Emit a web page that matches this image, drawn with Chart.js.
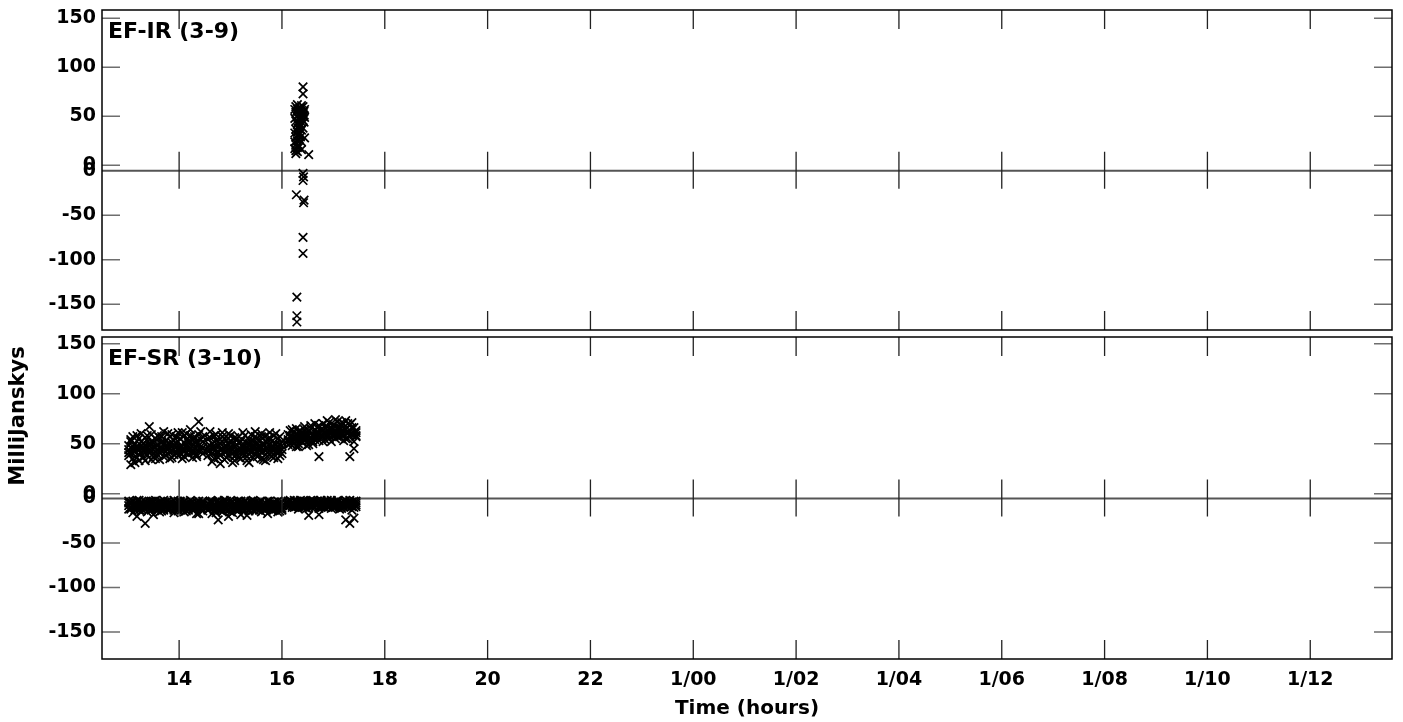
<!DOCTYPE html>
<html>
<head>
<meta charset="utf-8">
<title>EF baselines</title>
<script src="https://cdn.jsdelivr.net/npm/chart.js@4"></script>
<style>
  html, body { margin: 0; padding: 0; background: #fff; }
  #page { position: relative; width: 1403px; height: 722px; overflow: hidden; }
  .panel { position: absolute; left: 0; width: 1403px; }
</style>
</head>
<body>
<div id="page">
  <div class="panel" style="top:0;height:334px"><canvas id="irChart"></canvas></div>
  <div class="panel" style="top:333px;height:389px"><canvas id="srChart"></canvas></div>
</div>
<script>
// ---- tick labels ----
const timeTicks = [14, 16, 18, 20, 22, 24, 26, 28, 30, 32, 34, 36];
const upperTicks = [0, 50, 100, 150];
const lowerTicks = [0, -50, -100, -150];

// ---- EF-IR (3-9) ----
const irUpTimes = [16.41, 16.41, 16.27, 16.27, 16.27, 16.27, 16.27, 16.27, 16.27, 16.27,
                   16.30, 16.30, 16.30, 16.30, 16.30, 16.30, 16.30, 16.30,
                   16.34, 16.34, 16.34, 16.34, 16.34, 16.34, 16.34,
                   16.38, 16.38, 16.38, 16.38, 16.38, 16.38, 16.38,
                   16.41, 16.41, 16.41, 16.41, 16.44, 16.44, 16.44, 16.52,
                   16.25, 16.25, 16.25, 16.25, 16.25, 16.32, 16.32, 16.32, 16.32, 16.32,
                   16.36, 16.36, 16.36, 16.36, 16.43, 16.43, 16.43];
const irUpVals = [80, 73, 60, 54, 45, 37, 29, 21, 15, 12,
                  62, 57, 50, 42, 34, 25, 18, 14,
                  58, 52, 47, 40, 32, 26, 19,
                  61, 56, 50, 44, 36, 24, 16,
                  60, 53, 46, 38, 57, 49, 28, 11,
                  57, 48, 33, 24, 17, 55, 44, 38, 30, 21,
                  59, 49, 42, 29, 55, 51, 44];
const irLowTimes = [16.41, 16.42, 16.41, 16.28, 16.43, 16.42, 16.41, 16.41, 16.29, 16.29, 16.29];
const irLowVals = [-3, -7, -11, -27, -33, -36, -75, -93, -142, -163, -170];

// ---- EF-SR (3-10), three scans ----
const srTimes1 = [13.02, 13.06, 13.10, 13.14, 13.18, 13.22, 13.26, 13.30, 13.34, 13.38,
                  13.42, 13.46, 13.50, 13.54, 13.58, 13.62, 13.66, 13.70, 13.74, 13.78,
                  13.82, 13.86, 13.90, 13.94, 13.98, 14.02, 14.06, 14.10, 14.14, 14.18,
                  14.22, 14.26, 14.30, 14.34, 14.38, 14.42, 14.46];
const srTimes2 = [14.56, 14.60, 14.64, 14.68, 14.72, 14.76, 14.80, 14.84, 14.88, 14.92,
                  14.96, 15.00, 15.04, 15.08, 15.12, 15.16, 15.20, 15.24, 15.28, 15.32,
                  15.36, 15.40, 15.44, 15.48, 15.52, 15.56, 15.60, 15.64, 15.68, 15.72,
                  15.76, 15.80, 15.84, 15.88, 15.92, 15.96, 16.00];
const srTimes3 = [16.12, 16.16, 16.20, 16.24, 16.28, 16.32, 16.36, 16.40, 16.44, 16.48,
                  16.52, 16.56, 16.60, 16.64, 16.68, 16.72, 16.76, 16.80, 16.84, 16.88,
                  16.92, 16.96, 17.00, 17.04, 17.08, 17.12, 17.16, 17.20, 17.24, 17.28,
                  17.32, 17.36, 17.40, 17.44];

// amplitude-like values (upper half of each panel)
const srAmpA1 = [38, 52, 44, 31, 47, 55, 40, 36, 49, 58, 43, 34, 51, 46, 39, 56, 45, 37, 53, 48,
                 41, 59, 44, 50, 38, 55, 47, 42, 60, 51, 45, 36, 57, 49, 43, 62, 52];
const srAmpB1 = [48, 29, 57, 42, 36, 44, 60, 50, 33, 43, 67, 52, 40, 35, 58, 41, 52, 62, 38, 44,
                 57, 36, 53, 40, 61, 45, 35, 58, 46, 39, 64, 54, 41, 37, 72, 47, 40];
const srAmpC1 = [44, 40, 47, 42, 45, 39, 48, 44, 41, 46, 50, 43, 47, 42, 49, 45, 51, 44, 48, 46,
                 50, 43, 49, 46, 52, 47, 44, 51, 48, 53, 46, 50, 45, 52, 48, 54, 46];
const srAmpD1 = [41, 54, 35, 50, 58, 33, 52, 46, 56, 38, 48, 59, 37, 55, 44, 34, 57, 49, 42, 60,
                 35, 51, 39, 57, 45, 40, 61, 37, 54, 43, 58, 41, 55, 39, 59, 44, 57];
const srAmpA2 = [55, 48, 40, 58, 44, 36, 50, 61, 42, 47, 38, 53, 45, 33, 49, 57, 41, 46, 52, 37,
                 44, 59, 48, 40, 55, 43, 35, 50, 58, 45, 39, 52, 47, 60, 42, 49, 44];
const srAmpB2 = [43, 62, 32, 46, 53, 41, 30, 45, 55, 36, 60, 42, 31, 56, 40, 44, 35, 61, 39, 50,
                 31, 43, 53, 62, 37, 48, 57, 42, 33, 54, 61, 44, 36, 49, 55, 38, 52];
const srAmpC2 = [47, 43, 50, 45, 41, 48, 44, 52, 46, 42, 49, 45, 40, 47, 43, 51, 44, 48, 42, 46,
                 50, 41, 47, 44, 49, 45, 42, 48, 46, 51, 43, 47, 44, 50, 46, 42, 48];
const srAmpD2 = [38, 56, 46, 35, 59, 52, 39, 57, 34, 53, 44, 58, 49, 37, 55, 36, 52, 40, 58, 33,
                 54, 47, 36, 57, 51, 39, 60, 34, 52, 41, 56, 37, 58, 42, 35, 57, 40];
const srAmpA3 = [52, 58, 48, 61, 55, 50, 63, 57, 53, 60, 49, 65, 58, 54, 62, 68, 56, 60, 66, 59,
                 71, 63, 57, 67, 72, 61, 58, 70, 64, 55, 69, 60, 66, 58];
const srAmpB3 = [59, 50, 64, 54, 47, 62, 53, 58, 67, 48, 63, 56, 52, 70, 59, 37, 64, 52, 61, 73,
                 55, 66, 60, 74, 57, 64, 68, 53, 73, 62, 37, 71, 45, 63];
const srAmpC3 = [54, 57, 52, 56, 59, 53, 57, 60, 55, 58, 62, 56, 59, 63, 57, 60, 64, 58, 62, 57,
                 61, 65, 59, 63, 60, 66, 62, 58, 64, 60, 63, 59, 61, 57];
const srAmpD3 = [49, 63, 56, 51, 65, 47, 60, 51, 64, 56, 53, 68, 50, 58, 66, 53, 58, 70, 54, 67,
                 58, 52, 69, 55, 66, 57, 71, 63, 55, 70, 58, 66, 52, 61];

// lower half of each panel
const srNegA1 = [-5, -10, -3, -13, -7, -2, -11, -8, -4, -15, -6, -9, -3, -12, -7, -5, -14, -2, -9, -6,
                 -11, -4, -13, -8, -3, -10, -6, -15, -5, -9, -2, -12, -7, -4, -17, -8, -3];
const srNegB1 = [-12, -4, -16, -7, -20, -9, -14, -5, -28, -8, -12, -3, -18, -6, -10, -15, -4, -11, -8, -13,
                 -5, -9, -16, -6, -12, -3, -10, -7, -14, -11, -5, -13, -8, -17, -6, -10, -14];
const srNegC1 = [-8, -6, -9, -5, -11, -7, -6, -10, -8, -5, -9, -7, -11, -6, -8, -10, -7, -5, -9, -11,
                 -6, -8, -7, -10, -9, -6, -8, -11, -7, -6, -9, -8, -10, -7, -9, -6, -8];
const srNegD1 = [-3, -12, -7, -10, -2, -13, -4, -9, -12, -6, -3, -13, -8, -2, -12, -4, -10, -13, -5, -3,
                 -12, -7, -2, -11, -14, -4, -12, -3, -10, -13, -7, -4, -12, -10, -3, -12, -5];
const srNegA2 = [-6, -11, -3, -9, -14, -5, -8, -12, -2, -10, -7, -15, -4, -9, -13, -6, -3, -11, -8, -5,
                 -14, -10, -2, -7, -12, -4, -9, -6, -13, -3, -8, -11, -5, -10, -7, -14, -4];
const srNegB2 = [-13, -4, -17, -8, -16, -24, -6, -15, -9, -12, -20, -5, -16, -8, -11, -3, -18, -7, -13, -19,
                 -6, -11, -9, -14, -5, -10, -15, -7, -12, -17, -6, -10, -13, -8, -15, -5, -11];
const srNegC2 = [-9, -7, -5, -10, -8, -6, -11, -7, -9, -6, -8, -10, -7, -5, -9, -11, -8, -6, -10, -7,
                 -9, -5, -8, -11, -7, -6, -10, -8, -9, -7, -11, -6, -8, -9, -10, -7, -8];
const srNegD2 = [-12, -3, -10, -13, -4, -2, -13, -4, -12, -3, -13, -2, -11, -12, -4, -13, -5, -12, -3, -11,
                 -12, -3, -13, -4, -10, -13, -3, -12, -5, -11, -3, -13, -4, -12, -3, -11, -13];
const srNegA3 = [-3, -8, -5, -2, -9, -6, -4, -10, -3, -7, -5, -2, -8, -4, -6, -9, -3, -7, -5, -2,
                 -8, -4, -10, -6, -3, -7, -5, -9, -2, -6, -4, -8, -3, -7];
const srNegB3 = [-7, -3, -10, -6, -4, -12, -8, -3, -6, -11, -19, -5, -9, -4, -7, -18, -10, -6, -3, -9,
                 -5, -11, -7, -4, -8, -12, -6, -10, -24, -7, -28, -13, -22, -9];
const srNegC3 = [-5, -7, -4, -6, -8, -5, -6, -4, -7, -5, -8, -6, -4, -7, -5, -6, -8, -4, -6, -7,
                 -5, -4, -6, -8, -5, -7, -4, -6, -5, -8, -6, -4, -7, -5];
const srNegD3 = [-9, -2, -8, -10, -3, -9, -2, -9, -10, -3, -8, -9, -2, -10, -3, -11, -2, -9, -10, -4,
                 -9, -2, -8, -10, -2, -9, -11, -3, -8, -10, -2, -9, -10, -3];

const FONT = '"DejaVu Sans", sans-serif';

function pts(times, vals) {
    return times.map((t, i) => ({ x: t, y: vals[i] }));
}

function fmtTime(v) {
    if (v < 24) return String(v);
    return '1/' + String(v - 24).padStart(2, '0');
}

function crossSet(data, axis) {
    return {
        data: data,
        yAxisID: axis,
        pointStyle: 'crossRot',
        pointRadius: 6,
        pointBorderWidth: 1.7,
        borderColor: '#000',
        backgroundColor: '#000',
        showLine: false
    };
}

// frame, inward ticks, zero line, y labels and panel name
const panelFrame = {
    id: 'panelFrame',
    beforeDatasetsDraw(chart) {
        const { ctx, chartArea: a, scales } = chart;
        const y0 = scales.yLow.getPixelForValue(0);
        ctx.save();
        ctx.strokeStyle = '#555';
        ctx.lineWidth = 2;
        ctx.beginPath();
        ctx.moveTo(a.left, y0);
        ctx.lineTo(a.right, y0);
        ctx.stroke();
        ctx.restore();
    },
    afterDatasetsDraw(chart, args, opts) {
        const { ctx, chartArea: a, scales } = chart;
        const yUp = scales.yUp, yLow = scales.yLow, xs = scales.x;
        const yMid = yLow.getPixelForValue(0);
        ctx.save();

        // y ticks (inward, both sides)
        ctx.strokeStyle = '#6e6e6e';
        ctx.lineWidth = 1.5;
        const yTick = (y) => {
            ctx.beginPath();
            ctx.moveTo(a.left, y); ctx.lineTo(a.left + 18, y);
            ctx.moveTo(a.right - 18, y); ctx.lineTo(a.right, y);
            ctx.stroke();
        };
        upperTicks.forEach(v => yTick(yUp.getPixelForValue(v)));
        lowerTicks.filter(v => v !== 0).forEach(v => yTick(yLow.getPixelForValue(v)));

        // x ticks at top, bottom and on the middle line
        ctx.strokeStyle = '#222';
        ctx.lineWidth = 1.3;
        timeTicks.forEach(v => {
            const x = xs.getPixelForValue(v);
            ctx.beginPath();
            ctx.moveTo(x, a.top); ctx.lineTo(x, a.top + 19);
            ctx.moveTo(x, a.bottom - 19); ctx.lineTo(x, a.bottom);
            ctx.moveTo(x, yMid - 19); ctx.lineTo(x, yMid + 18);
            ctx.stroke();
        });

        // frame
        ctx.strokeStyle = '#000';
        ctx.lineWidth = 1.5;
        ctx.strokeRect(a.left, a.top, a.right - a.left, a.bottom - a.top);

        // y tick labels
        ctx.fillStyle = '#000';
        ctx.font = 'bold 19px ' + FONT;
        ctx.textAlign = 'right';
        ctx.textBaseline = 'middle';
        upperTicks.forEach(v => ctx.fillText(String(v), a.left - 6, yUp.getPixelForValue(v)));
        lowerTicks.forEach(v => ctx.fillText(String(v), a.left - 6, yLow.getPixelForValue(v)));

        // panel name
        ctx.font = 'bold 22px ' + FONT;
        ctx.textAlign = 'left';
        ctx.textBaseline = 'alphabetic';
        ctx.fillText(opts.label, a.left + 6, a.top + 28);

        // shared y title
        if (opts.yTitle) {
            ctx.translate(opts.yTitle.x, opts.yTitle.y);
            ctx.rotate(-Math.PI / 2);
            ctx.textAlign = 'center';
            ctx.textBaseline = 'middle';
            ctx.font = 'bold 21px ' + FONT;
            ctx.fillText(opts.yTitle.text, 0, 0);
        }
        ctx.restore();
    }
};

const timeMin = 12.5, timeMax = 37.59;

function baseOptions(label, yTitle, ranges, showX) {
    return {
        responsive: true,
        maintainAspectRatio: false,
        animation: false,
        layout: {
            autoPadding: false,
            padding: showX
                ? { left: 102, right: 11, top: 4, bottom: 1 }
                : { left: 102, right: 11, top: 10, bottom: 4 }
        },
        plugins: {
            legend: { display: false },
            tooltip: { enabled: false },
            panelFrame: { label: label, yTitle: yTitle }
        },
        scales: {
            x: {
                type: 'linear',
                min: timeMin,
                max: timeMax,
                display: showX,
                grid: { display: false, drawTicks: false },
                border: { display: false },
                afterBuildTicks: s => { s.ticks = timeTicks.map(v => ({ value: v })); },
                afterFit: s => { if (showX) s.height = 62; },
                ticks: {
                    padding: 10,
                    color: '#000',
                    autoSkip: false,
                    maxRotation: 0,
                    font: { family: FONT, size: 19, weight: 'bold' },
                    callback: v => fmtTime(v)
                },
                title: {
                    display: true,
                    text: 'Time (hours)',
                    color: '#000',
                    padding: 0,
                    font: { family: FONT, size: 20, weight: 'bold' }
                }
            },
            yUp: { type: 'linear', display: false, min: ranges.up[0], max: ranges.up[1] },
            yLow: { type: 'linear', display: false, min: ranges.low[0], max: ranges.low[1] }
        }
    };
}

new Chart(document.getElementById('irChart'), {
    type: 'scatter',
    data: {
        datasets: [
            crossSet(pts(irUpTimes, irUpVals), 'yUp'),
            crossSet(pts(irLowTimes, irLowVals), 'yLow')
        ]
    },
    options: baseOptions('EF-IR (3-9)', null,
        { up: [-168, 158.5], low: [-179, 180.6] }, false),
    plugins: [panelFrame]
});

const srUpper = [
    [srTimes1, srAmpA1], [srTimes1, srAmpB1], [srTimes1, srAmpC1], [srTimes1, srAmpD1],
    [srTimes2, srAmpA2], [srTimes2, srAmpB2], [srTimes2, srAmpC2], [srTimes2, srAmpD2],
    [srTimes3, srAmpA3], [srTimes3, srAmpB3], [srTimes3, srAmpC3], [srTimes3, srAmpD3]
];
const srLower = [
    [srTimes1, srNegA1], [srTimes1, srNegB1], [srTimes1, srNegC1], [srTimes1, srNegD1],
    [srTimes2, srNegA2], [srTimes2, srNegB2], [srTimes2, srNegC2], [srTimes2, srNegD2],
    [srTimes3, srNegA3], [srTimes3, srNegB3], [srTimes3, srNegC3], [srTimes3, srNegD3]
];

new Chart(document.getElementById('srChart'), {
    type: 'scatter',
    data: {
        datasets: [
            ...srUpper.map(([t, v]) => crossSet(pts(t, v), 'yUp')),
            ...srLower.map(([t, v]) => crossSet(pts(t, v), 'yLow'))
        ]
    },
    options: baseOptions('EF-SR (3-10)', { text: 'MilliJanskys', x: 19, y: 83 },
        { up: [-165.3, 156.7], low: [-180.3, 181.5] }, true),
    plugins: [panelFrame]
});
</script>
</body>
</html>
